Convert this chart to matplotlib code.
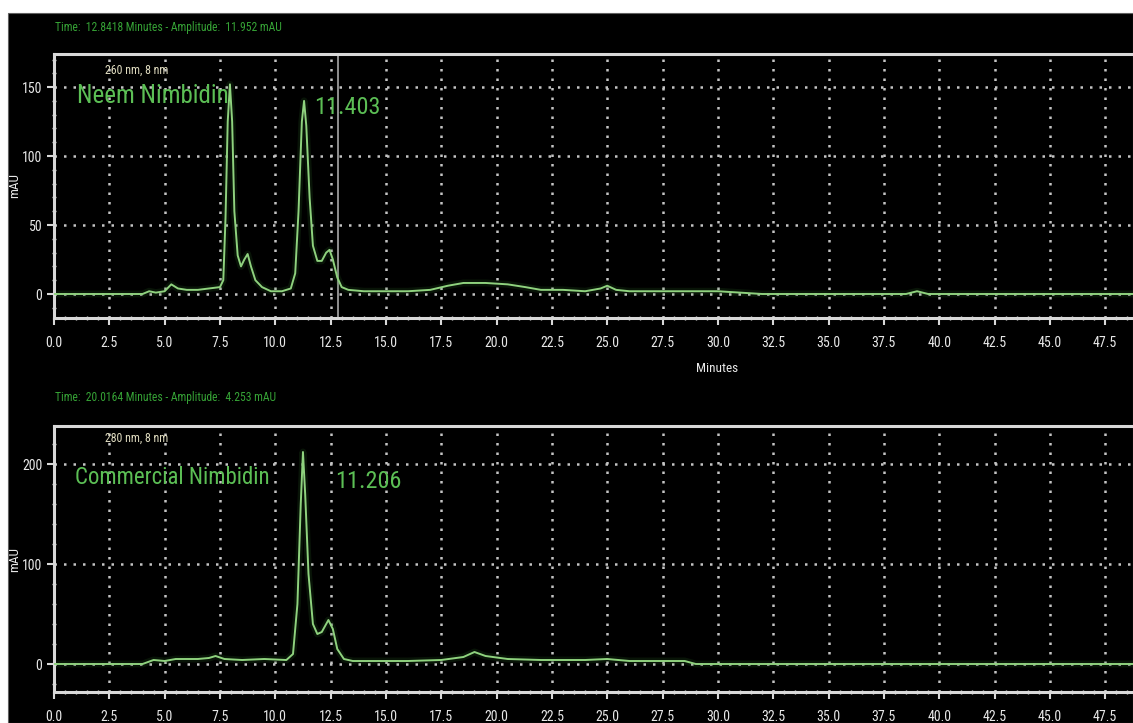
import matplotlib
matplotlib.use("Agg")
import matplotlib.pyplot as plt
from matplotlib import font_manager
from matplotlib.ticker import MultipleLocator, FormatStrFormatter
from matplotlib.patches import Rectangle

# ---------------- data ----------------
neem_time = [0, 4.0, 4.3, 4.6, 5.0, 5.3, 5.6, 6.0, 6.5, 7.0, 7.5, 7.65, 7.75, 7.85, 7.95,
             8.05, 8.15, 8.3, 8.45, 8.6, 8.75, 8.9, 9.1, 9.4, 9.8, 10.3, 10.7, 10.9, 11.05,
             11.2, 11.3, 11.4, 11.55, 11.7, 11.9, 12.1, 12.3, 12.45, 12.6, 12.8, 13.0, 13.3,
             14, 15, 16, 17, 17.8, 18.5, 19.5, 20.5, 21.3, 22, 23, 24, 24.7, 25.0, 25.4,
             26, 28, 30, 31, 32, 38.5, 39.0, 39.5, 49]
neem_mau = [0, 0, 2, 1, 2, 7, 4, 3, 3, 4, 5, 10, 55, 125, 152, 125, 60, 28, 20, 25, 29,
            20, 10, 5, 2, 2, 4, 15, 60, 125, 140, 122, 70, 35, 24, 24, 30, 32, 25, 12, 5, 3,
            2, 2, 2, 3, 6, 8, 8, 7, 5, 3, 3, 2, 4, 6, 3, 2, 2, 2, 1, 0, 0, 2, 0, 0]

comm_time = [0, 4.0, 4.5, 5.0, 5.5, 6.5, 7.0, 7.3, 7.7, 8.5, 9.5, 10.5, 10.8, 11.0, 11.15,
             11.25, 11.35, 11.5, 11.7, 11.9, 12.1, 12.4, 12.6, 12.8, 13.1, 13.5, 14, 16,
             17.5, 18.5, 19.0, 19.5, 20.5, 22, 24, 25, 26, 28.5, 29, 49]
comm_mau = [0, 0, 4, 3, 5, 5, 6, 8, 5, 4, 5, 4, 10, 60, 160, 212, 170, 90, 40, 30, 32, 44,
            35, 15, 5, 3, 3, 3, 4, 7, 12, 8, 5, 4, 4, 5, 3, 3, 0, 0]

x_ticks = [0.0, 2.5, 5.0, 7.5, 10.0, 12.5, 15.0, 17.5, 20.0, 22.5, 25.0, 27.5, 30.0,
           32.5, 35.0, 37.5, 40.0, 42.5, 45.0, 47.5]
neem_yticks = [0, 50, 100, 150]
comm_yticks = [0, 100, 200]

neem_header = "Time:  12.8418 Minutes - Amplitude:  11.952 mAU"
comm_header = "Time:  20.0164 Minutes - Amplitude:  4.253 mAU"
neem_wl = "260 nm, 8 nm"
comm_wl = "280 nm, 8 nm"
neem_name = "Neem Nimbidin"
comm_name = "Commercial Nimbidin"
neem_rt = "11.403"
comm_rt = "11.206"
cursor_time = 12.8418

# ---------------- fonts ----------------
names = {f.name for f in font_manager.fontManager.ttflist}
narrow = None
for cand in ["Liberation Sans Narrow", "Roboto Condensed", "DejaVu Sans Condensed"]:
    if cand in names:
        narrow = cand
        break
if narrow is None:
    narrow = "Roboto"
plt.rcParams['font.family'] = [narrow, "DejaVu Sans"]

W, H = 1133, 723
fig = plt.figure(figsize=(W / 100, H / 100), dpi=100, facecolor="white")
fig.patches.append(Rectangle((8 / W, 0), 1 - 8 / W, 1 - 13 / H, transform=fig.transFigure,
                             facecolor="black", edgecolor="#606060", lw=0.8, zorder=-5))

px_per_min = 22.13
left_px = 54
xmax = (W - left_px) / px_per_min

SPINE = "#d8d8d8"
GRID = "#c4c4c4"
TRACE = "#8fd27e"
LABEL_G = "#5cbf55"
HEAD_G = "#36a336"
WL_C = "#e0dcc0"


def fx(px):
    return px / W


def fy(py):
    return 1 - py / H


def make_axes(top_px, bot_px):
    ax = fig.add_axes([fx(left_px), fy(bot_px), 1 - fx(left_px), (bot_px - top_px) / H])
    ax.set_facecolor("none")
    for s in ["left", "top", "bottom"]:
        ax.spines[s].set_color(SPINE)
        ax.spines[s].set_linewidth(2.2)
    ax.spines["right"].set_visible(False)
    ax.set_xlim(0, xmax)
    ax.set_xticks(x_ticks)
    ax.xaxis.set_major_formatter(FormatStrFormatter("%.1f"))
    ax.xaxis.set_minor_locator(MultipleLocator(0.5))
    ax.tick_params(axis="both", which="major", colors=SPINE, labelcolor="#e8e8e8",
                   labelsize=10, length=5, width=1.5, direction="out")
    ax.tick_params(axis="x", which="major", pad=8)
    ax.tick_params(axis="both", which="minor", colors=SPINE, length=3, width=1.0,
                   direction="inout")
    ax.grid(True, which="major", color=GRID, linestyle=(0, (1, 2.8)), linewidth=1.8)
    return ax


# ---------- top panel ----------
ax1 = make_axes(54, 318)
ax1.set_ylim(-17.4, 174)
ax1.set_yticks(neem_yticks)
ax1.yaxis.set_minor_locator(MultipleLocator(10))
ax1.axvline(cursor_time, color="#9a9a9a", lw=1.3, zorder=1)
ax1.plot(neem_time, neem_mau, color="#3c8a34", lw=5, alpha=0.15, zorder=2)
ax1.plot(neem_time, neem_mau, color=TRACE, lw=1.4, zorder=3)
ax1.set_ylabel("mAU", color="#e8e8e8", fontsize=9.5)
ax1.set_xlabel("Minutes", color="#e8e8e8", fontsize=9.5)
ax1.xaxis.set_label_coords((717 - left_px) / (W - left_px), -0.165)

# ---------- bottom panel ----------
ax2 = make_axes(426, 692)
ax2.set_ylim(-28, 238)
ax2.set_yticks(comm_yticks)
ax2.yaxis.set_minor_locator(MultipleLocator(20))
ax2.plot(comm_time, comm_mau, color="#3c8a34", lw=5, alpha=0.15, zorder=2)
ax2.plot(comm_time, comm_mau, color=TRACE, lw=1.4, zorder=3)
ax2.set_ylabel("mAU", color="#e8e8e8", fontsize=9.5)

for ax in (ax1, ax2):
    ax.yaxis.set_label_coords((21 - left_px) / (W - left_px), 0.5)

# ---------- texts ----------
fig.text(fx(55), fy(28), neem_header, color=HEAD_G, fontsize=8.4, va="center", ha="left")
fig.text(fx(55), fy(397), comm_header, color=HEAD_G, fontsize=8.4, va="center", ha="left")
fig.text(fx(105), fy(70), neem_wl, color=WL_C, fontsize=8.6, va="center", ha="left")
fig.text(fx(105), fy(438), comm_wl, color=WL_C, fontsize=8.6, va="center", ha="left")
fig.text(fx(77), fy(96), neem_name, color=LABEL_G, fontsize=18, va="center", ha="left")
fig.text(fx(75), fy(478), comm_name, color=LABEL_G, fontsize=16.5, va="center", ha="left")
fig.text(fx(314), fy(108), neem_rt, color=LABEL_G, fontsize=17.5, va="center", ha="left")
fig.text(fx(335), fy(481), comm_rt, color=LABEL_G, fontsize=17.5, va="center", ha="left")

fig.savefig("out.png", dpi=100, facecolor="white")
